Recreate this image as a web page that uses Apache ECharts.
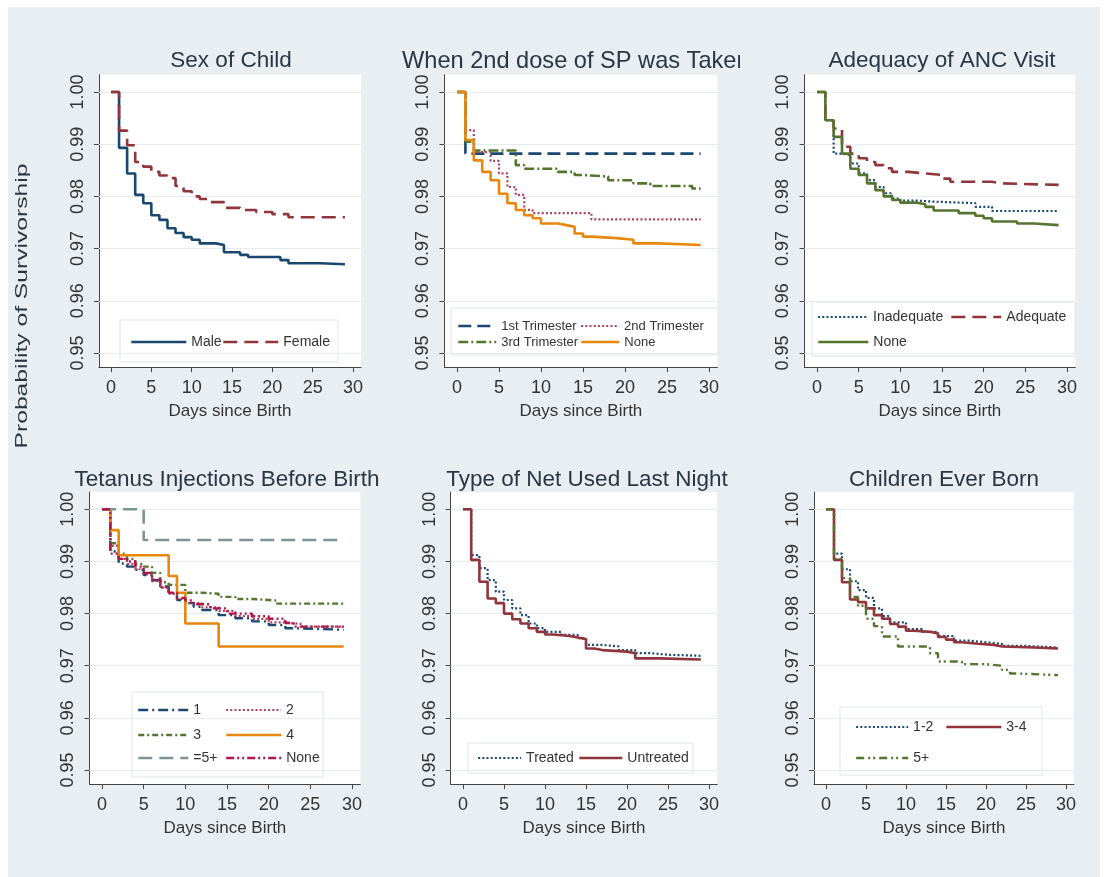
<!DOCTYPE html>
<html><head><meta charset="utf-8">
<script src="https://cdn.jsdelivr.net/npm/echarts@6/dist/echarts.min.js"></script>
<style>
html,body{margin:0;padding:0;background:#fff;}
#c{width:1108px;height:877px;background:linear-gradient(#e9eef2,#e9eef2) no-repeat 8px 7px / 1092px 870px, #fff;}
</style>
</head><body><div id="c"></div>
<script>
// ---------- tick labels ----------
const dayTicks = [0, 5, 10, 15, 20, 25, 30];
const survTicks = [0.95, 0.96, 0.97, 0.98, 0.99, 1.00];
const xTitle = 'Days since Birth';
const yTitle = 'Probability of Survivorship';
const panelTitles = ['Sex of Child', 'When 2nd dose of SP was Taken', 'Adequacy of ANC Visit',
  'Tetanus Injections Before Birth', 'Type of Net Used Last Night', 'Children Ever Born'];

// ---------- data: [day, survival] (Kaplan-Meier steps) ----------
const sexMale = [[0,1],[1,0.9893],[2,0.9844],[3,0.9803],[4,0.9787],[5,0.9764],[6,0.9755],[7,0.9739],[8,0.973],[9,0.9722],[10,0.9717],[11,0.971],[13,0.9707],[14,0.9693],[16,0.9688],[17,0.9684],[21,0.9678],[22,0.9672],[26,0.967],[29,0.967]];
const sexFemale = [[0,1],[1,0.9926],[2,0.9898],[3,0.9866],[4,0.9857],[5,0.9847],[6,0.984],[7,0.9835],[8,0.982],[9,0.981],[10,0.98],[11,0.9795],[12,0.9789],[14,0.9778],[16,0.9774],[18,0.977],[20,0.9766],[22,0.976],[29,0.976]];

const spFirst = [[0,1],[1,0.9882],[29,0.9882]];
const spSecond = [[0,1],[1,0.9927],[2,0.9885],[4,0.9868],[5,0.9844],[6,0.9818],[7,0.9803],[8,0.9774],[9,0.9768],[16,0.9756],[29,0.9756]];
const spThird = [[0,1],[1,0.9905],[2,0.9888],[7,0.986],[8,0.9853],[12,0.9847],[14,0.9841],[15,0.9838],[18,0.9831],[21,0.9825],[23,0.982],[28,0.9815],[29,0.9815]];
const spNone = [[0,1],[1,0.9908],[2,0.9869],[3,0.9847],[4,0.9831],[5,0.9805],[6,0.9787],[7,0.9774],[8,0.9764],[9,0.9758],[10,0.9748],[12,0.9745],[13,0.9742],[14,0.9729],[15,0.9723],[16,0.972],[19,0.9717],[21,0.971],[24,0.9707],[29,0.9707]];

const ancInadequate = [[0,1],[1,0.9946],[2,0.9882],[3,0.9879],[4,0.9863],[5,0.9844],[6,0.9831],[7,0.9818],[8,0.9806],[9,0.9796],[10,0.9792],[12,0.979],[14,0.9787],[19,0.978],[21,0.9772],[29,0.9772]];
const ancAdequate = [[0,1],[1,0.9946],[2,0.993],[3,0.9895],[4,0.9882],[5,0.9873],[6,0.9866],[7,0.986],[8,0.9854],[9,0.9847],[11,0.9844],[13,0.9841],[15,0.9834],[16,0.9828],[21,0.9825],[22,0.9822],[29,0.9822]];
const ancNone = [[0,1],[1,0.9946],[2,0.9914],[3,0.9882],[4,0.9853],[5,0.9841],[6,0.9825],[7,0.9812],[8,0.98],[9,0.9793],[10,0.9788],[12,0.9785],[13,0.978],[14,0.9773],[17,0.9768],[19,0.9763],[20,0.9758],[21,0.9752],[24,0.9748],[26,0.9745],[29,0.9745]];

const tt1 = [[0,1],[1,0.9919],[2,0.9896],[3,0.989],[4,0.9884],[5,0.9874],[6,0.9864],[7,0.9852],[8,0.9839],[9,0.9826],[10,0.982],[11,0.9813],[12,0.9807],[14,0.9797],[16,0.9791],[18,0.9785],[20,0.9778],[22,0.9772],[23,0.9769],[29,0.9769]];
const tt2 = [[0,1],[1,0.993],[2,0.9905],[3,0.9895],[4,0.9885],[5,0.9875],[6,0.9862],[7,0.985],[8,0.9838],[9,0.9828],[10,0.982],[12,0.9812],[14,0.9805],[16,0.9795],[18,0.979],[20,0.9783],[22,0.978],[24,0.9775],[29,0.9775]];
const tt3 = [[0,1],[1,0.9935],[2,0.9915],[3,0.9905],[4,0.9895],[5,0.989],[6,0.9878],[7,0.986],[8,0.9855],[10,0.984],[12,0.9838],[14,0.9832],[16,0.9828],[18,0.9825],[21,0.9819],[29,0.9819]];
const tt4 = [[0,1],[1,0.996],[2,0.9912],[8,0.9872],[9,0.984],[10,0.9781],[14,0.9737],[29,0.9737]];
const tt5plus = [[0,1],[5,0.9941],[29,0.9941]];
const ttNone = [[0,1],[1,0.9915],[2,0.9905],[3,0.99],[4,0.989],[5,0.9878],[6,0.9865],[7,0.985],[8,0.984],[9,0.983],[10,0.9825],[11,0.9818],[13,0.981],[15,0.98],[18,0.9795],[20,0.979],[22,0.9782],[23,0.9775],[29,0.9775]];

const netTreated = [[0,1],[1,0.9912],[2,0.9887],[3,0.9864],[4,0.9842],[5,0.9826],[6,0.981],[7,0.9797],[8,0.9781],[9,0.9772],[10,0.9765],[12,0.9759],[14,0.9753],[15,0.974],[17,0.9737],[19,0.973],[21,0.9724],[23,0.9721],[25,0.9719],[29,0.9717]];
const netUntreated = [[0,1],[1,0.9903],[2,0.9861],[3,0.9829],[4,0.982],[5,0.98],[6,0.9789],[7,0.9781],[8,0.9772],[9,0.9765],[10,0.976],[11,0.9757],[13,0.9754],[14,0.9751],[15,0.9733],[16,0.973],[17,0.9727],[20,0.9724],[21,0.9714],[24,0.9712],[29,0.9712]];

const ceb12 = [[0,1],[1,0.9915],[2,0.9885],[3,0.9862],[4,0.9845],[5,0.983],[6,0.981],[7,0.9795],[8,0.9783],[10,0.977],[12,0.9765],[14,0.9757],[16,0.9748],[18,0.9745],[20,0.9742],[22,0.9738],[25,0.9735],[29,0.9735]];
const ceb34 = [[0,1],[1,0.9903],[2,0.986],[3,0.9827],[4,0.9822],[5,0.981],[6,0.9797],[7,0.979],[8,0.978],[9,0.9775],[10,0.9767],[11,0.9765],[13,0.9762],[14,0.9755],[15,0.975],[16,0.9745],[17,0.9742],[19,0.974],[21,0.9737],[22,0.9735],[26,0.9733],[29,0.9733]];
const ceb5plus = [[0,1],[1,0.9905],[2,0.9868],[3,0.9832],[4,0.9815],[5,0.979],[6,0.9776],[7,0.9756],[9,0.9737],[13,0.9724],[14,0.9708],[17,0.9703],[20,0.97],[22,0.9692],[23,0.9685],[24,0.9682],[29,0.9682]];

// ---------- styles ----------
const NAVY = '#1a476f', MAROON = '#90353b', PINK = '#a9425a', GREEN = '#55752f',
      ORANGE = '#e8870e', TEAL = '#7e9394', CRAN = '#b3154a';
const DASH = [14, 7], LDASH = [13, 6], DOT = [2, 2.2];
const panels = [
  [['Male', sexMale, NAVY, 'solid', 2.6], ['Female', sexFemale, MAROON, DASH, 2.6]],
  [['1st Trimester', spFirst, NAVY, LDASH, 2.6], ['2nd Trimester', spSecond, PINK, DOT, 2.2],
   ['3rd Trimester', spThird, GREEN, [10, 3, 2, 3], 2.6], ['None', spNone, ORANGE, 'solid', 2.6]],
  [['Inadequate', ancInadequate, NAVY, DOT, 2.2], ['Adequate', ancAdequate, MAROON, DASH, 2.6],
   ['None', ancNone, GREEN, 'solid', 2.6]],
  [['1', tt1, NAVY, [10, 4, 2, 4], 2.4], ['2', tt2, PINK, DOT, 2.2], ['3', tt3, GREEN, [6, 3, 2, 3], 2.4],
   ['4', tt4, ORANGE, 'solid', 2.6], ['=5+', tt5plus, TEAL, DASH, 2.6], ['None', ttNone, CRAN, [8, 3, 2, 3, 2, 3], 2.4]],
  [['Treated', netTreated, NAVY, DOT, 2.2], ['Untreated', netUntreated, MAROON, 'solid', 2.6]],
  [['1-2', ceb12, NAVY, DOT, 2.2], ['3-4', ceb34, MAROON, 'solid', 2.6], ['5+', ceb5plus, GREEN, [8, 4, 2, 3, 2, 4], 2.4]]
];

// ---------- layout (pixel positions of tick 0 / 30 and 1.00 / 0.95) ----------
const layout = [
  {x0: 111, x30: 353, y1: 92, y95: 353, tx: 231, ty: 61, talign: 'center', tsize: 22.5},
  {x0: 457, x30: 709, y1: 92, y95: 353, tx: 402, ty: 61, talign: 'left', tsize: 23.6},
  {x0: 817, x30: 1067, y1: 92, y95: 353, tx: 942, ty: 61, talign: 'center', tsize: 22.5},
  {x0: 102, x30: 352, y1: 509.3, y95: 770, tx: 227, ty: 480, talign: 'center', tsize: 22.5},
  {x0: 463, x30: 709, y1: 509.3, y95: 770, tx: 587, ty: 480, talign: 'center', tsize: 22.5},
  {x0: 826, x30: 1066, y1: 509.3, y95: 770, tx: 944, ty: 480, talign: 'center', tsize: 22.5}
];
// legend keys: [series index, key left, center y, key width, font size]
const legendPos = [
  [[0, 130, 342, 55, 14], [1, 222, 342, 55, 14]],
  [[0, 457, 326, 38, 13], [1, 580, 326, 38, 13], [2, 457, 342, 38, 13], [3, 580, 342, 38, 13]],
  [[0, 817, 317, 50, 14], [1, 950, 317, 50, 14], [2, 817, 342, 50, 14]],
  [[0, 137, 710, 50, 14], [1, 225, 710, 55, 14], [2, 137, 735, 50, 14], [3, 225, 735, 55, 14], [4, 137, 758, 50, 14], [5, 225, 758, 55, 14]],
  [[0, 477, 758, 43, 14], [1, 578, 758, 43, 14]],
  [[0, 855, 727, 52, 14], [1, 945, 727, 55, 14], [2, 855, 758, 52, 14]]
];
const legendBoxes = [
  [120, 320, 218, 42], [451, 308, 267, 47], [812, 302, 263, 54],
  [132, 692, 191, 85], [468, 743, 225, 30], [840, 707, 202, 68]
];

const X_MIN = -1.5, X_MAX = 31, Y_MIN = 0.9473, Y_MAX = 1.0033;
const FONT = '"Liberation Sans", Arial, sans-serif';
const TXT = '#333';
const BG = '#e9eef2';

const grids = [], xAxes = [], yAxes = [], series = [], legends = [], graphics = [];

legendBoxes.forEach(b => graphics.push({
  type: 'rect', z: 1, shape: {x: b[0], y: b[1], width: b[2], height: b[3]},
  style: {fill: '#fff', stroke: '#dfe5ea', lineWidth: 1}
}));

panels.forEach((p, i) => {
  const L = layout[i];
  const sx = (L.x30 - L.x0) / 30, sy = (L.y95 - L.y1) / 0.05;
  grids.push({
    left: L.x0 - (0 - X_MIN) * sx, top: L.y1 - (Y_MAX - 1) * sy,
    width: (X_MAX - X_MIN) * sx, height: (Y_MAX - Y_MIN) * sy,
    show: true, backgroundColor: '#fff', borderWidth: 0
  });
  xAxes.push({
    type: 'value', gridIndex: i, min: X_MIN, max: X_MAX,
    name: xTitle, nameLocation: 'middle', nameGap: 36,
    nameTextStyle: {fontSize: 17, color: TXT, fontFamily: FONT},
    axisLine: {show: true, onZero: false, lineStyle: {color: '#444', width: 1}},
    axisTick: {show: true, length: 5, customValues: dayTicks, lineStyle: {color: '#444'}},
    axisLabel: {customValues: dayTicks, margin: 12, fontSize: 18, color: TXT, fontFamily: FONT},
    splitLine: {show: false}
  });
  yAxes.push({
    type: 'value', gridIndex: i, min: Y_MIN, max: Y_MAX,
    axisLine: {show: true, onZero: false, lineStyle: {color: '#444', width: 1}},
    axisTick: {show: true, length: 5, customValues: survTicks, lineStyle: {color: '#444'}},
    axisLabel: {customValues: survTicks, rotate: 90, margin: 12, fontSize: 18, color: TXT, fontFamily: FONT,
      formatter: v => Number(v).toFixed(2)},
    splitLine: {show: false}
  });
  p.forEach((s, k) => {
    const ser = {
      name: i + '|' + s[0], type: 'line', step: 'end', xAxisIndex: i, yAxisIndex: i,
      data: s[1], symbol: 'none', showSymbol: false, animation: false, z: 3,
      lineStyle: {color: s[2], type: s[3], width: s[4], cap: 'butt'},
      itemStyle: {color: s[2]}
    };
    if (k === 0) {
      ser.markLine = {
        silent: true, symbol: ['none', 'none'], animation: false, z: 1,
        label: {show: false}, lineStyle: {color: '#e6ebef', width: 1, type: 'solid'},
        data: survTicks.map(v => ({yAxis: v}))
      };
    }
    series.push(ser);
  });
  legendPos[i].forEach(lp => {
    const s = p[lp[0]];
    legends.push({
      data: [i + '|' + s[0]], left: lp[1], top: lp[2] - 8, itemWidth: lp[3], itemHeight: 16,
      padding: 0, selectedMode: false, itemStyle: {opacity: 0},
      lineStyle: {width: s[4]},
      formatter: n => n.split('|')[1],
      textStyle: {fontSize: lp[4], color: TXT, fontFamily: FONT, lineHeight: 16}
    });
  });
  graphics.push({
    type: 'text', z: 5, x: L.tx, y: L.ty,
    style: {text: panelTitles[i], fontSize: L.tsize, fontFamily: FONT, fill: '#2a3642',
      align: L.talign, verticalAlign: 'middle'}
  });
});
// clip of the overflowing second title at the panel border
graphics.push({type: 'rect', z: 50, shape: {x: 740, y: 44, width: 80, height: 29}, style: {fill: BG}});
graphics.push({
  type: 'text', z: 5, x: 22, y: 306, rotation: Math.PI / 2, scaleX: 1.45,
  style: {text: yTitle, fontSize: 17, fontFamily: FONT, fill: '#2a3642', align: 'center', verticalAlign: 'middle'}
});

const chart = echarts.init(document.getElementById('c'), null, {renderer: 'canvas'});
chart.setOption({
  backgroundColor: 'transparent',
  animation: false,
  grid: grids, xAxis: xAxes, yAxis: yAxes, series: series, legend: legends,
  graphic: {elements: graphics}
});
</script>
</body></html>
